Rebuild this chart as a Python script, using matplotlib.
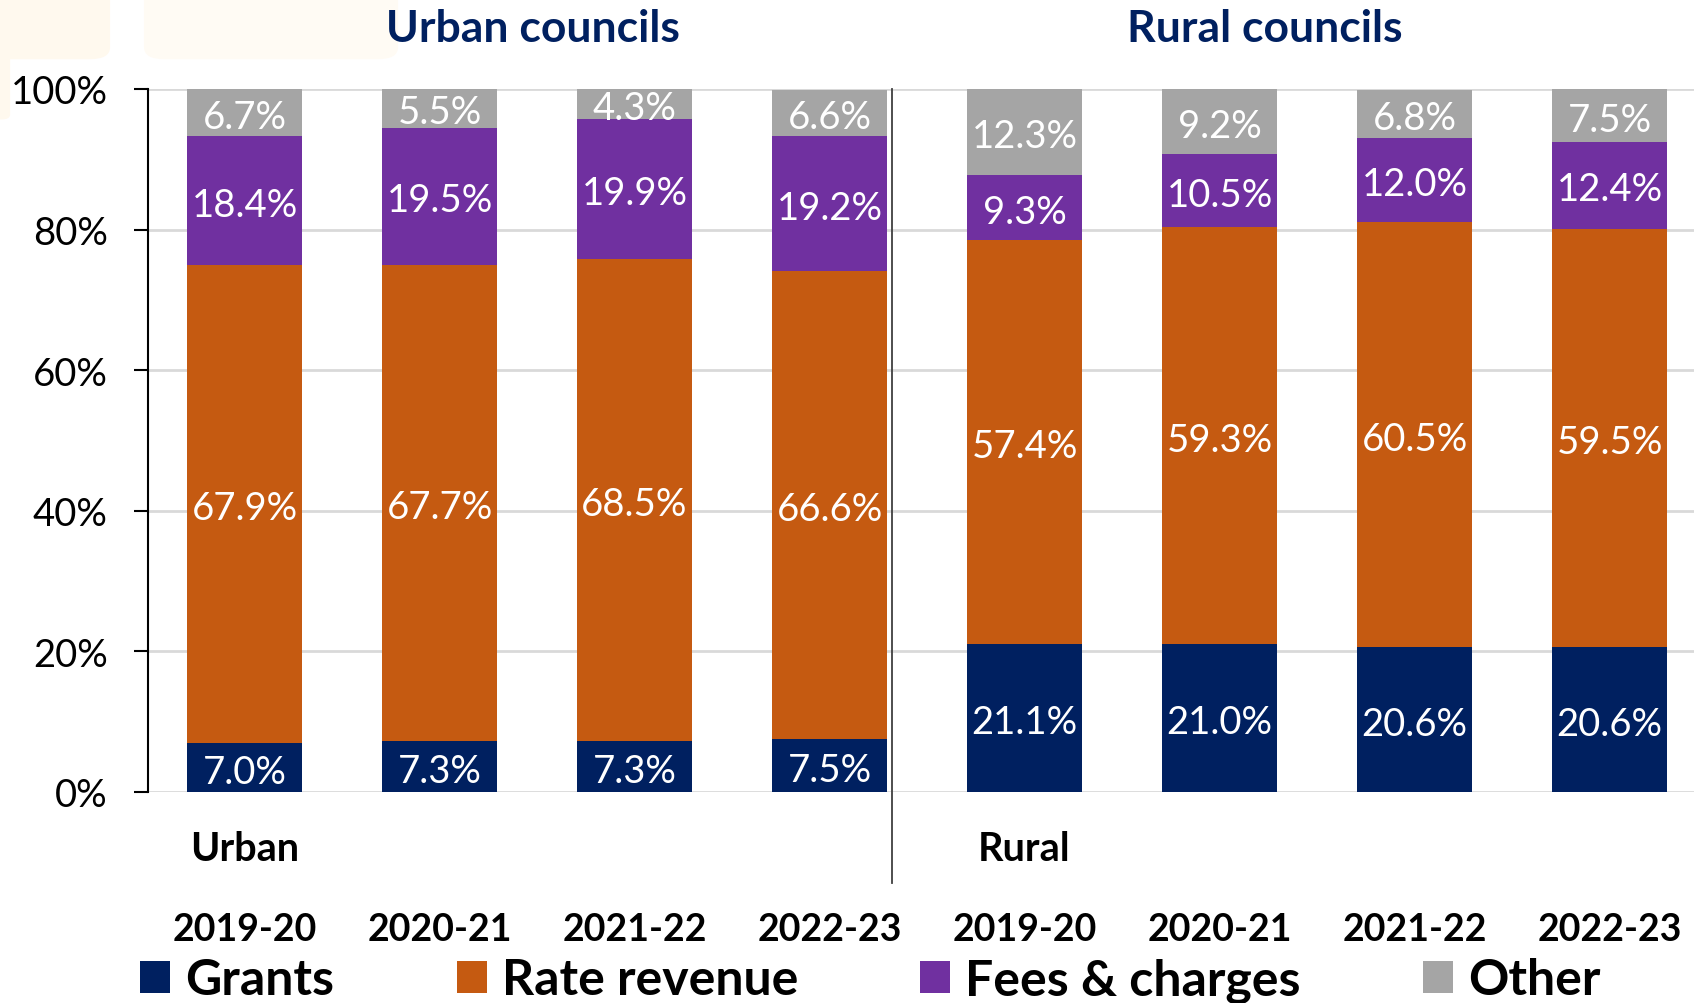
import matplotlib.pyplot as plt
from matplotlib.patches import FancyBboxPatch
import numpy as np

plt.rcParams['font.family'] = ['Lato', 'DejaVu Sans']

years = ["2019-20", "2020-21", "2021-22", "2022-23"]
groups = ["Urban", "Rural"]

# revenue shares (%), urban councils then rural councils
grants = [7.0, 7.3, 7.3, 7.5, 21.1, 21.0, 20.6, 20.6]
rates = [67.9, 67.7, 68.5, 66.6, 57.4, 59.3, 60.5, 59.5]
fees = [18.4, 19.5, 19.9, 19.2, 9.3, 10.5, 12.0, 12.4]
other = [6.7, 5.5, 4.3, 6.6, 12.3, 9.2, 6.8, 7.5]

series = [("Grants", grants, "#002060"),
          ("Rate revenue", rates, "#C55A11"),
          ("Fees & charges", fees, "#7030A0"),
          ("Other", other, "#A5A5A5")]

fig = plt.figure(figsize=(16.94, 10.04), dpi=100)

# faint banner shapes in the top corner
fig.patches.append(FancyBboxPatch((-0.02, 0.94), 0.085, 0.08, boxstyle="round,pad=0,rounding_size=0.012",
                                  transform=fig.transFigure, fc="#fff9ee", ec="none", zorder=0))
fig.patches.append(FancyBboxPatch((-0.02, 0.88), 0.026, 0.14, boxstyle="round,pad=0,rounding_size=0.005",
                                  transform=fig.transFigure, fc="#fff9ee", ec="none", zorder=0))
fig.patches.append(FancyBboxPatch((0.085, 0.94), 0.15, 0.08, boxstyle="round,pad=0,rounding_size=0.012",
                                  transform=fig.transFigure, fc="#fffbf4", ec="none", zorder=0))

ax = fig.add_axes([148 / 1694, 1 - 793 / 1004, 1 - 148 / 1694, (793 - 90) / 1004])
ax.patch.set_alpha(0)

x = np.arange(len(grants))
bottom = np.zeros(len(x))
handles = []
for name, vals, col in series:
    vals = np.array(vals)
    bars = ax.bar(x, vals, 0.59, bottom=bottom, color=col, label=name, zorder=2)
    handles.append(bars)
    for xi, b, v in zip(x, bottom, vals):
        ax.annotate(f"{v:.1f}%", (xi, b + v / 2), xytext=(0, -3), textcoords="offset points",
                    ha="center", va="center", color="white", fontsize=27.5, zorder=3)
    bottom += vals

ax.set_xlim(-0.495, 7.433)
ax.set_ylim(0, 100)
ax.set_yticks(np.arange(0, 101, 20))
ax.set_yticklabels([f"{t}%" for t in range(0, 101, 20)], fontsize=27.5)
ax.yaxis.grid(True, color="#D9D9D9", linewidth=2, zorder=0)
ax.set_axisbelow(True)
ax.tick_params(axis="y", length=10, width=1.5, pad=19)
ax.tick_params(axis="x", length=0, labelbottom=False)
for s in ["top", "right", "bottom"]:
    ax.spines[s].set_visible(False)
ax.spines["left"].set_linewidth(1.5)

# divider between urban and rural groups
ax.plot([3.32, 3.32], [100, -12.9], color="#404040", lw=1.3, clip_on=False)

for gi, g in enumerate(groups):
    ax.text(gi * 4, -8.1, g, ha="center", va="center", fontsize=28.5,
            fontweight="bold", clip_on=False)
for xi in x:
    ax.text(xi, -19.5, years[xi % 4], ha="center", va="center", fontsize=27,
            fontweight="bold", clip_on=False)

fig.text(533 / 1694, 1 - 29 / 1004, "Urban councils", ha="center", va="center",
         fontsize=32, fontweight="bold", color="#002060")
fig.text(1265 / 1694, 1 - 29 / 1004, "Rural councils", ha="center", va="center",
         fontsize=32, fontweight="bold", color="#002060")

leg = fig.legend(handles=handles, loc="center left", bbox_to_anchor=(140 / 1694, 1 - 981 / 1004),
                 ncol=4, frameon=False, prop={"size": 36, "weight": "bold"},
                 handlelength=0.6, handleheight=0.6, handletextpad=0.3,
                 columnspacing=2.45, borderpad=0, borderaxespad=0)

fig.savefig("out.png", dpi=100)
